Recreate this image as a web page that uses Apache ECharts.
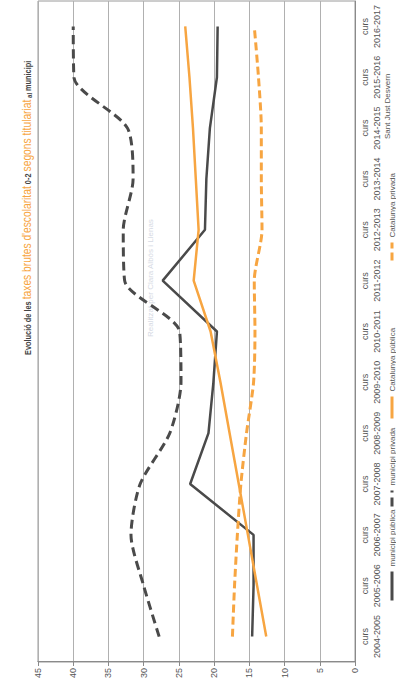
<!DOCTYPE html>
<html><head><meta charset="utf-8">
<script src="https://cdn.jsdelivr.net/npm/echarts@6/dist/echarts.min.js"></script>
<style>
html,body{margin:0;padding:0;width:396px;height:687px;overflow:hidden;background:#fff}
#chart{position:absolute;left:0;top:0;width:687px;height:396px;transform-origin:0 0;transform:translate(0,687px) rotate(-90deg);}
</style></head><body><div id="chart"></div>
<script>
const categories = ['2004-2005','2005-2006','2006-2007','2007-2008','2008-2009','2009-2010','2010-2011','2011-2012','2012-2013','2013-2014','2014-2015','2015-2016','2016-2017'];
const municipiPublica = [14.6, 14.4, 14.4, 23.4, 20.8, 20.1, 19.6, 27.3, 21.3, 21.1, 20.6, 19.6, 19.5];
const municipiPrivada = [27.8, 30.0, 31.8, 30.5, 26.3, 24.7, 24.9, 32.7, 32.9, 31.5, 32.3, 39.9, 40.0];
const catalunyaPublica = [12.6, 13.9, 15.2, 16.5, 17.8, 19.1, 20.5, 22.9, 22.2, 22.6, 23.0, 23.5, 24.1];
const catalunyaPrivada = [17.4, 17.1, 16.7, 16.2, 15.4, 14.4, 14.2, 14.3, 13.2, 13.3, 13.3, 13.7, 14.3];
const valueTicks = {min: 0, max: 45, interval: 5};

const DARK = '#4a4a4a', ORANGE = '#f7a541';
const FONT = 'Liberation Sans';

const chart = echarts.init(document.getElementById('chart'), null, {renderer: 'svg', width: 687, height: 396});
const legendText = {fontFamily: FONT, fontSize: 8, color: '#555'};
const legendCommon = {top: 383, itemHeight: 8, textStyle: legendText, itemStyle: {opacity: 0}, lineStyle: {width: 3}};
chart.setOption({
  animation: false,
  grid: {left: 25, right: 1, top: 38, bottom: 41, show: true, borderColor: '#9a9a9a', borderWidth: 1},
  xAxis: {
    type: 'category', data: categories, boundaryGap: true,
    axisLine: {lineStyle: {color: '#8a8a8a'}},
    axisTick: {length: 4, lineStyle: {color: '#8a8a8a'}, interval: (i) => i % 2 === 1},
    axisLabel: {interval: 0, margin: 4, fontFamily: FONT, fontSize: 9, lineHeight: 12, color: '#555', formatter: v => 'curs\n' + v}
  },
  yAxis: {
    type: 'value', min: valueTicks.min, max: valueTicks.max, interval: valueTicks.interval,
    axisLine: {show: true, lineStyle: {color: '#8a8a8a'}},
    axisTick: {show: true, length: 4, lineStyle: {color: '#8a8a8a'}},
    axisLabel: {margin: 6, fontFamily: FONT, fontSize: 9, color: '#555'},
    splitLine: {lineStyle: {color: '#b0b0b0'}}
  },
  legend: [
    Object.assign({left: 80, itemWidth: 29, data: ['municipi pública']}, legendCommon),
    Object.assign({left: 174, itemWidth: 16, data: ['municipi privada']}, legendCommon),
    Object.assign({left: 262, itemWidth: 22, data: ['Catalunya pública']}, legendCommon),
    Object.assign({left: 420, itemWidth: 18, data: ['Catalunya privada']}, legendCommon)
  ],
  graphic: [
    {type: 'text', x: 332, y: 25, scaleX: 0.82, style: {
      text: '{d|Evolució de les }{o|taxes brutes d\'escolaritat}{d| 0-2 }{o|segons titulariat}{s| al }{d|municipi}',
      verticalAlign: 'middle', align: 'left',
      rich: {
        d: {fontFamily: FONT, fontWeight: 'bold', fontSize: 9, fill: '#444', verticalAlign: 'bottom', lineHeight: 16},
        s: {fontFamily: FONT, fontWeight: 'bold', fontSize: 7.5, fill: '#444', verticalAlign: 'bottom', lineHeight: 16},
        o: {fontFamily: FONT, fontSize: 12.5, fill: ORANGE, verticalAlign: 'bottom', lineHeight: 16}
      }
    }},
    {type: 'text', left: 548, top: 383, style: {text: 'Sant Just Desvern', fontFamily: FONT, fontSize: 8, fill: '#555'}},
    {type: 'text', left: 350, top: 146, style: {text: 'Realitzat per Clara Albós i Llenas', fontFamily: FONT, fontSize: 8, fill: '#d6dae4'}}
  ],
  series: [
    {name: 'municipi pública', type: 'line', data: municipiPublica, symbol: 'none', lineStyle: {color: DARK, width: 2.5}, itemStyle: {color: DARK}},
    {name: 'municipi privada', type: 'line', data: municipiPrivada, symbol: 'none', smooth: 0.25, lineStyle: {color: DARK, width: 3, type: [9, 5]}, itemStyle: {color: DARK}},
    {name: 'Catalunya pública', type: 'line', data: catalunyaPublica, symbol: 'none', lineStyle: {color: ORANGE, width: 2.5}, itemStyle: {color: ORANGE}},
    {name: 'Catalunya privada', type: 'line', data: catalunyaPrivada, symbol: 'none', smooth: 0.25, lineStyle: {color: ORANGE, width: 3, type: [8, 4]}, itemStyle: {color: ORANGE}}
  ]
});
</script></body></html>
